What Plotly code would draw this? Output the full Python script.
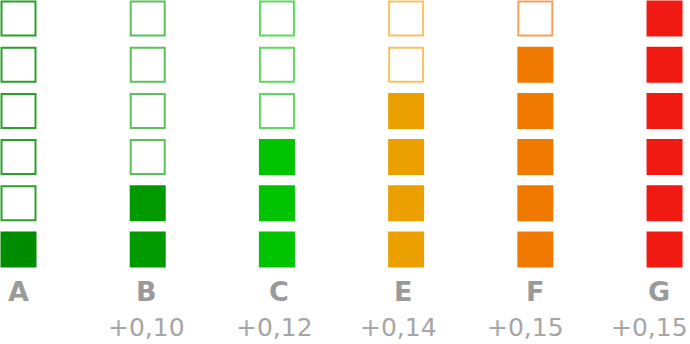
import plotly.graph_objects as go

categories = ["A", "B", "C", "E", "F", "G"]
filled_counts = [1, 2, 3, 4, 5, 6]
total_squares = 6
value_labels = ["", "+0,10", "+0,12", "+0,14", "+0,15", "+0,15"]

fill_colors = ["#008c00", "#009a00", "#00c400", "#eba000", "#f07a00", "#f01a12"]
outline_colors = ["#2a9f2a", "#5cc15c", "#5fd85f", "#f4c462", "#f4a25a", "#f46a62"]

# small horizontal nudges (px) for the label text
letter_nudge = [0, -1, 2, -3, 0, -6]
value_nudge = [0, -1, -2, -8, -10, -15]

fig = go.Figure()

for i, cat in enumerate(categories):
    ys = list(range(total_squares))
    colors, lcolors, lwidths, sizes = [], [], [], []
    for j in ys:
        if j < filled_counts[i]:
            colors.append(fill_colors[i])
            lcolors.append(fill_colors[i])
            lwidths.append(0)
            sizes.append(36)
        else:
            colors.append("white")
            lcolors.append(outline_colors[i])
            lwidths.append(2)
            sizes.append(34)
    fig.add_trace(go.Scatter(
        x=[i] * total_squares, y=ys, mode="markers",
        marker=dict(symbol="square", size=sizes, color=colors, opacity=1,
                    line=dict(color=lcolors, width=lwidths)),
        hoverinfo="skip", showlegend=False,
    ))

for i, cat in enumerate(categories):
    fig.add_annotation(x=i, y=-0.9, text=f"<b>{cat}</b>", showarrow=False,
                       xshift=letter_nudge[i],
                       font=dict(family="DejaVu Sans", size=27, color="#9a9a9a"))
    if value_labels[i]:
        fig.add_annotation(x=i, y=-1.68, text=value_labels[i], showarrow=False,
                           xshift=value_nudge[i],
                           font=dict(family="DejaVu Sans", size=25, color="#a6a6a6"))

fig.update_layout(
    width=690, height=344,
    margin=dict(l=0, r=0, t=0, b=0),
    paper_bgcolor="white", plot_bgcolor="white",
    xaxis=dict(range=[-0.1432, 5.197], visible=False, fixedrange=True),
    yaxis=dict(range=[-2.045, 5.400], visible=False, fixedrange=True),
)

fig.write_html("out.html", config={"displayModeBar": False})
